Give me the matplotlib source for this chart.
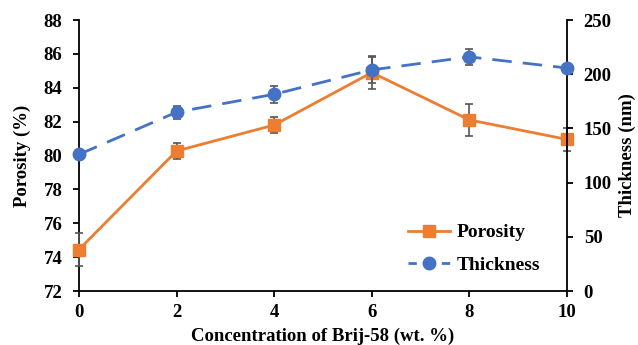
import matplotlib.pyplot as plt
from matplotlib.lines import Line2D

# Data
conc = [0, 2, 4, 6, 8, 10]
porosity = [74.45, 80.27, 81.8, 84.9, 82.1, 80.95]
porosity_err = [1.0, 0.47, 0.47, 0.95, 0.95, 0.7]
thickness = [126, 165, 181.5, 204, 216, 205.7]
thickness_err = [4, 6, 8, 12, 7.5, 4]

plt.rcParams['font.family'] = ['Liberation Serif', 'DejaVu Serif']
plt.rcParams['font.weight'] = 'bold'

orange = '#ED7D31'
blue = '#4472C4'
dash = (0, (7, 4))

fig = plt.figure(figsize=(6.38, 3.45), dpi=100)
ax = fig.add_axes([0.1238, 0.1565, 0.765, 0.7855])
ax2 = ax.twinx()

# porosity on left axis
ax.errorbar(conc, porosity, yerr=porosity_err, color=orange, lw=2,
            marker='s', ms=9, ecolor='#555555', elinewidth=1.2, capsize=3,
            capthick=1.2, zorder=3, clip_on=False)
# thickness on right axis
ax2.errorbar(conc, thickness, yerr=thickness_err, color=blue, lw=2,
             ls=dash, marker='o', ms=9, ecolor='#555555',
             elinewidth=1.2, capsize=3, capthick=1.2, zorder=3, clip_on=False)

ax.set_xlim(0, 10)
ax.set_ylim(72, 88)
ax.set_xticks(range(0, 11, 2))
ax.set_yticks(range(72, 89, 2))
ax2.set_ylim(0, 250)
ax2.set_yticks(range(0, 251, 50))

for a in (ax, ax2):
    a.spines['top'].set_visible(False)
    for s in a.spines.values():
        s.set_linewidth(1.3)
    a.tick_params(direction='out', width=1.3, length=4, labelsize=13.5, pad=8)
ax.tick_params(axis='x', pad=5)
ax.spines['right'].set_visible(False)
ax2.spines['left'].set_visible(False)
ax2.spines['bottom'].set_visible(False)

ax.set_xlabel('Concentration of Brij-58 (wt. %)', fontsize=13.5,
              fontweight='bold', labelpad=5)
ax.set_ylabel('Porosity (%)', fontsize=13.5, fontweight='bold', labelpad=9)
ax2.set_ylabel('Thickness (nm)', fontsize=13.5, fontweight='bold', labelpad=5)

handles = [
    Line2D([], [], color=orange, lw=2, marker='s', ms=9),
    Line2D([], [], color=blue, lw=2, ls=(0, (3, 3)), marker='o', ms=9),
]
ax2.legend(handles, ['Porosity', 'Thickness'], loc='lower right',
           bbox_to_anchor=(0.98, 0.0), frameon=False, fontsize=14,
           handlelength=2.2, handletextpad=0.3, labelspacing=0.75)

fig.savefig('out.png', dpi=100)
